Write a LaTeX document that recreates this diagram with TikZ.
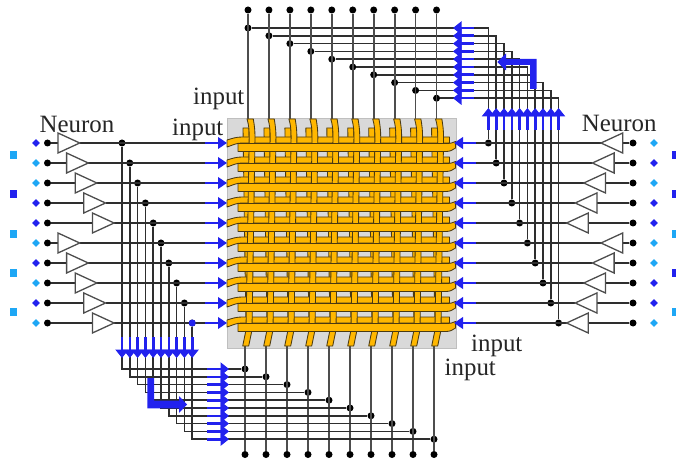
\documentclass[tikz,border=0pt]{standalone}
\usepackage{fontspec}
\setmainfont{Liberation Serif}
\usetikzlibrary{arrows.meta,shapes.geometric}
\definecolor{bluedk}{HTML}{2222EE}
\definecolor{bluelt}{HTML}{1EA7F5}
\definecolor{strip}{HTML}{FFB700}
\definecolor{stripedge}{HTML}{4A3A12}
\definecolor{greybg}{HTML}{D9D9D9}
\definecolor{wire}{HTML}{2E2E2E}
\tikzset{
  bluearrow/.style={draw=bluedk,line width=2.6bp,-{Triangle[length=9bp,width=11.5bp]},fill=bluedk},
  busarrow/.style={draw=bluedk,line width=2.6bp,-{Triangle[length=8.5bp,width=13bp]},fill=bluedk},
  wireline/.style={draw=wire,line width=1.45bp},
  colline/.style={draw=wire!85!white,line width=1.7bp},
  blackdot/.style={circle,fill=black,inner sep=0pt,minimum size=7bp},
  jdot/.style={circle,fill=black,inner sep=0pt,minimum size=7bp},
  gate/.style={draw=wire!85!white,line width=1.3bp,fill=white,line join=miter},
  dia/.style={diamond,fill=#1,inner sep=0pt,minimum size=8bp},
  sq/.style={rectangle,fill=#1,inner sep=0pt,minimum size=7.4bp},
  stripe/.style={draw=stripedge,fill=strip,line width=0.85bp,line join=round},
  lab/.style={anchor=base west,inner sep=0pt,text=black!85,font=\fontsize{24.9bp}{26bp}\selectfont},
}
\begin{document}
\begin{tikzpicture}[x=1bp,y=-1bp]
\useasboundingbox (0,0) rectangle (676,463);
% grey base
\node[rectangle,fill=greybg,draw=black!25,line width=0.5bp,minimum width=229.5bp,minimum height=230bp,inner sep=0pt,anchor=north west] (grid) at (226.5,118) {};
% coordinates and dots
\foreach \i in {0,...,9}{
  \pgfmathsetmacro\ry{143+20*\i}
  \pgfmathsetmacro\lb{58+8.6*mod(\i,5)}
  \pgfmathsetmacro\lt{\lb+21.7}
  \pgfmathsetmacro\rt{601-8.6*mod(\i,5)}
  \pgfmathsetmacro\rb{\rt+21.7}
  \pgfmathsetmacro\lj{122+7.8*\i}
  \pgfmathsetmacro\rj{488.4+7.8*\i}
  \pgfmathsetmacro\xt{248+20.95*\i}
  \pgfmathsetmacro\xb{245+21*\i}
  \pgfmathsetmacro\yt{28+7.8*\i}
  \pgfmathsetmacro\yb{369+7.8*\i}
  \node[blackdot] (LD\i) at (47.5,\ry) {};
  \node[blackdot] (RD\i) at (633,\ry) {};
  \coordinate (LB\i) at (\lb,\ry);
  \coordinate (LT\i) at (\lt,\ry);
  \coordinate (RB\i) at (\rb,\ry);
  \coordinate (RT\i) at (\rt,\ry);
  \coordinate (LA\i) at (205,\ry);
  \coordinate (LH\i) at (227,\ry);
  \coordinate (RA\i) at (476,\ry);
  \coordinate (RH\i) at (454,\ry);
  \coordinate (TS\i) at (\xt,119);
  \coordinate (BS\i) at (\xb,346);
  \node[blackdot] (TD\i) at (\xt,10) {};
  \node[blackdot] (BD\i) at (\xb,454.5) {};
  \node[jdot] (TJ\i) at (\xt,\yt) {};
  \node[jdot] (BJ\i) at (\xb,\yb) {};
  \node[jdot] (LJ\i) at (\lj,\ry) {};
  \node[jdot] (RJ\i) at (\rj,\ry) {};
  \coordinate (DA\i) at (\lj,337);
  \coordinate (DH\i) at (\lj,358);
  \coordinate (UA\i) at (\rj,130);
  \coordinate (UH\i) at (\rj,108);
  \coordinate (EA\i) at (207,\yb);
  \coordinate (EH\i) at (229,\yb);
  \coordinate (WA\i) at (474,\yt);
  \coordinate (WH\i) at (453,\yt);
}
% wires
\foreach \i in {0,...,9}{
  \draw[wireline] (LD\i) -- (LB\i);
  \draw[wireline] (LT\i) -- (LA\i);
  \draw[wireline] (RD\i) -- (RB\i);
  \draw[wireline] (RT\i) -- (RA\i);
  \draw[colline] (TD\i) -- (TS\i);
  \draw[colline] (BD\i) -- (BS\i);
  \draw[wireline] (TJ\i) -| (RJ\i);
  \draw[wireline] (LJ\i) |- (BJ\i);
}
% weave: back verticals
\foreach \i in {0,...,9}{
  \pgfmathsetmacro\xt{248+20.95*\i}
  \pgfmathsetmacro\xb{245+21*\i}
  \draw[stripe] (\xt-5,128) -- (\xt+1,128) -- (\xb+6.5,330) -- (\xb+1,330) -- cycle;
}
% weave: back horizontals
\foreach \i in {0,...,9}{
  \pgfmathsetmacro\y{143+20*\i}
  \draw[stripe] (227,\y-3) .. controls (232,\y-4.5) and (236,\y-6) .. (242,\y-6) -- (449.5,\y-6) -- (449.5,\y) -- (242,\y) .. controls (236,\y) and (232,\y+2.5) .. (227,\y+4) -- cycle;
}
% weave: front verticals
\foreach \i in {0,...,9}{
  \pgfmathsetmacro\xt{248+20.95*\i}
  \pgfmathsetmacro\xb{245+21*\i}
  \draw[stripe] (\xt-1,119) .. controls (\xt+0.8,125) and (\xt+1.2,130) .. (\xt+1.2,137) -- (\xb+1,330) -- (\xb-2.3,346) -- (\xb+3.7,346) -- (\xb+7,330) -- (\xt+7,137) .. controls (\xt+7,130) and (\xt+6.3,125) .. (\xt+5.3,119) -- cycle;
}
% weave: front horizontals
\foreach \i in {0,...,9}{
  \pgfmathsetmacro\y{143+20*\i}
  \draw[stripe] (238,\y+0.5) -- (446,\y+0.5) .. controls (450,\y+0.5) and (453,\y) .. (455.5,\y-1.5) -- (455.5,\y+5) .. controls (453,\y+7) and (450,\y+8.5) .. (446,\y+8.5) -- (238,\y+8.5) -- cycle;
}
% gates, terminals, blue arrows
\foreach \i in {0,...,9}{
  \draw[gate] ([yshift=10bp]LB\i) -- (LT\i) -- ([yshift=-10bp]LB\i) -- cycle;
  \draw[gate] ([yshift=10bp]RB\i) -- (RT\i) -- ([yshift=-10bp]RB\i) -- cycle;
  \draw[bluearrow] (LA\i) -- (LH\i);
  \draw[bluearrow] (RA\i) -- (RH\i);
}
\foreach \i in {0,...,9}{
  \draw[busarrow] (DA\i) -- (DH\i);
  \draw[busarrow] (UA\i) -- (UH\i);
  \draw[busarrow] (EA\i) -- (EH\i);
  \draw[busarrow] (WA\i) -- (WH\i);
}
\node[jdot,fill=bluedk] (LJblue) at (LJ9) {};
% large turn arrows
\fill[bluedk] (536.7,59) -- (506,59) -- (506,53.5) -- (497.3,62) -- (506,70.5) -- (506,65) -- (530,65) -- (530,89) -- (536.7,89) -- cycle;
\fill[bluedk] (147.3,378) -- (154,378) -- (154,400.7) -- (179,400.7) -- (179,396) -- (187,404.5) -- (179,413) -- (179,408.3) -- (147.3,408.3) -- cycle;
% diamonds
\foreach \i/\c in {0/bluedk,1/bluelt,2/bluelt,3/bluedk,4/bluedk,5/bluelt,6/bluedk,7/bluelt,8/bluedk,9/bluelt}{
  \pgfmathsetmacro\ry{143+20*\i}
  \node[dia=\c] (LM\i) at (36,\ry) {};
}
\foreach \i/\c in {0/bluelt,1/bluedk,2/bluelt,3/bluedk,4/bluedk,5/bluelt,6/bluelt,7/bluedk,8/bluedk,9/bluelt}{
  \pgfmathsetmacro\ry{143+20*\i}
  \node[dia=\c] (RM\i) at (654,\ry) {};
}
% squares
\foreach \n/\y/\c in {a/155/bluelt,b/194/bluedk,c/234/bluelt,d/273/bluelt,e/312/bluelt}{
  \node[sq=\c] (LS\n) at (13.5,\y) {};
}
\foreach \n/\y/\c in {a/155/bluedk,b/194/bluedk,c/234/bluelt,d/273/bluedk,e/312/bluelt}{
  \node[sq=\c] (RS\n) at (676,\y) {};
}
% labels
\node[lab] (n1) at (39.5,132.5) {Neuron};
\node[lab] (n2) at (581.7,131.7) {Neuron};
\node[lab] (i1) at (172,135.5) {input};
\node[lab] (i2) at (193,105) {input};
\node[lab] (i3) at (471,351) {input};
\node[lab] (i4) at (444.5,375) {input};
\end{tikzpicture}
\end{document}
